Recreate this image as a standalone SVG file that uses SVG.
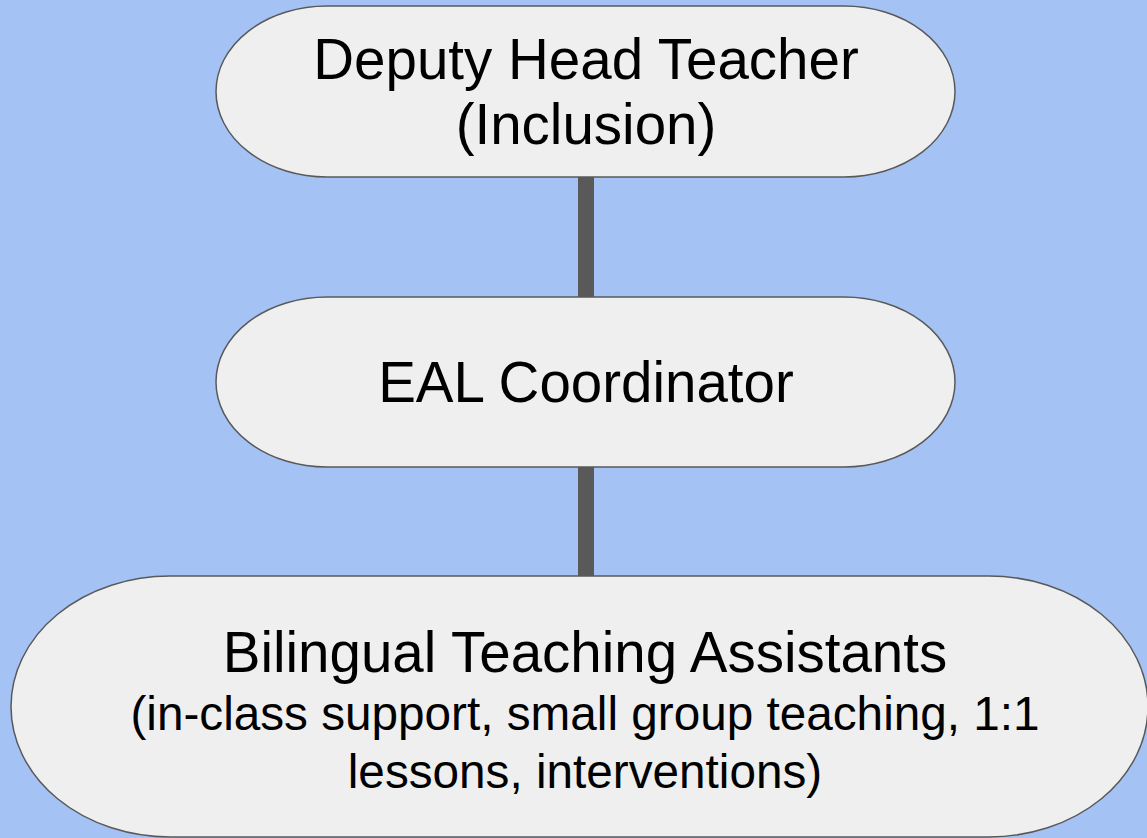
<svg xmlns="http://www.w3.org/2000/svg" width="1147" height="838" viewBox="0 0 1147 838">
<style>
.node{fill:#efefef;stroke:#595959;stroke-width:1.5}
.conn{stroke:#595959;stroke-width:16;fill:none}
.t{font-family:"Liberation Sans",Arial,sans-serif;fill:#000;text-anchor:middle}
.big{font-size:56.5px}
.small{font-size:47.7px}
</style>
<rect width="1147" height="838" fill="#a4c2f4"/>
<g id="connectors">
<line class="conn" x1="586" y1="176" x2="586" y2="298"/>
<line class="conn" x1="586" y1="466" x2="586" y2="577"/>
</g>
<g id="node-deputy">
<rect class="node" x="216" y="6" width="739" height="171" rx="111" ry="85.5"/>
<text class="t big" x="586" y="79">Deputy Head Teacher</text>
<text class="t big" x="586" y="144">(Inclusion)</text>
</g>
<g id="node-eal">
<rect class="node" x="216" y="297" width="739" height="170" rx="111" ry="85"/>
<text class="t big" x="586" y="402">EAL Coordinator</text>
</g>
<g id="node-bta">
<rect class="node" x="11" y="576" width="1137" height="261" rx="159" ry="130.5"/>
<text class="t big" x="585" y="672">Bilingual Teaching Assistants</text>
<text class="t small" x="585" y="730">(in-class support, small group teaching, 1:1</text>
<text class="t small" x="585" y="788">lessons, interventions)</text>
</g>
</svg>
